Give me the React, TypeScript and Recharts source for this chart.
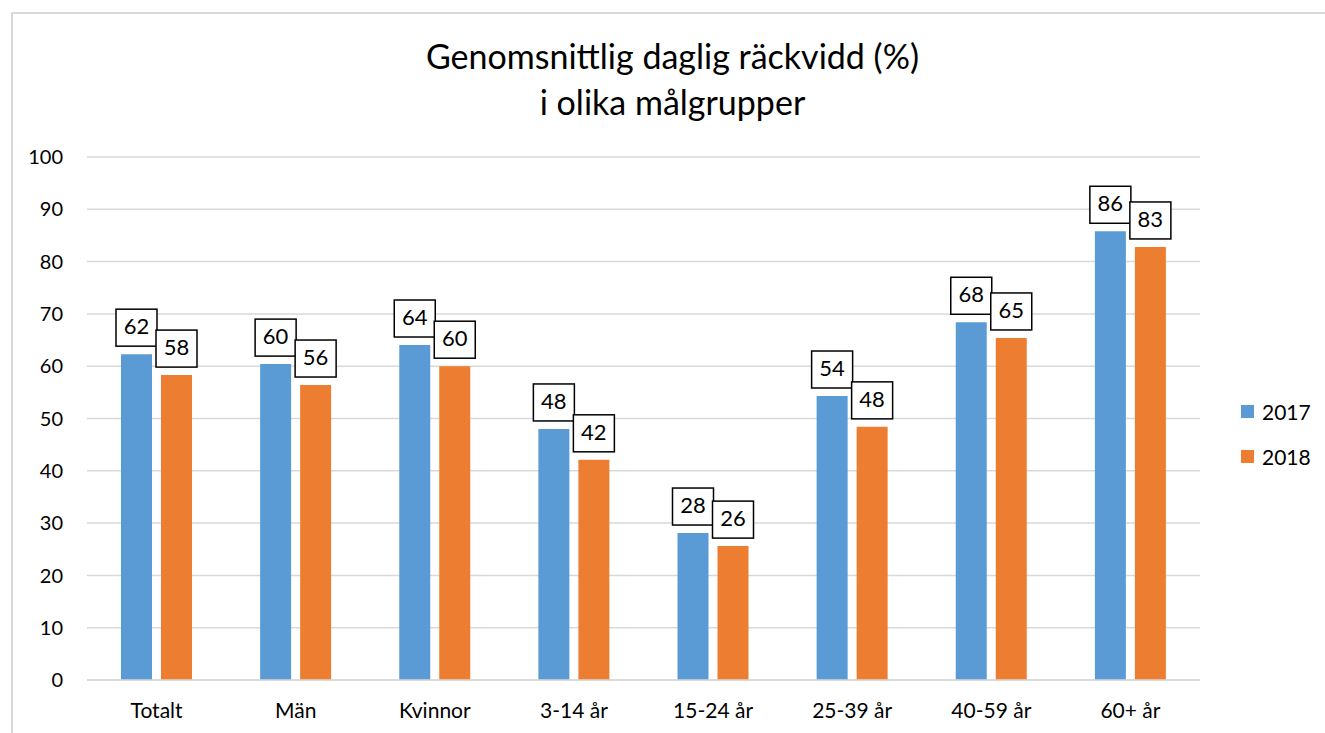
import { BarChart, Bar, XAxis, YAxis, CartesianGrid, LabelList } from "recharts";

const categories = ["Totalt", "Män", "Kvinnor", "3-14 år", "15-24 år", "25-39 år", "40-59 år", "60+ år"];
const values2017 = [62.3, 60.4, 64.05, 48.0, 28.1, 54.3, 68.4, 85.8];
const values2018 = [58.3, 56.4, 60.0, 42.1, 25.6, 48.4, 65.4, 82.8];
const yTicks = [0, 10, 20, 30, 40, 50, 60, 70, 80, 90, 100];
const seriesNames = ["2017", "2018"];

const BLUE = "#5b9bd5";
const ORANGE = "#ed7d31";
const FONT = "Lato, 'Open Sans', sans-serif";

const data = categories.map((name, i) => ({ name, y2017: values2017[i], y2018: values2018[i] }));

// boxed value label above each bar, like the Excel callouts
function BoxLabel(props: any) {
  const { x, y, width, value } = props;
  const cx = Number(x) + Number(width) / 2;
  const w = 41;
  const h = 37;
  const top = Number(y) - 8 - h;
  return (
    <g>
      <rect x={cx - w / 2} y={top} width={w} height={h} fill="#fff" stroke="#000" strokeWidth={1.5} />
      <text x={cx} y={top + h / 2 + 1} textAnchor="middle" dominantBaseline="middle" fontSize={22} fontFamily={FONT} fill="#000">
        {Math.round(Number(value))}
      </text>
    </g>
  );
}

export default function App() {
  const legendColors = [BLUE, ORANGE];
  return (
    <div style={{ position: "absolute", left: 0, top: 0, width: 1325, height: 733, background: "#fff", overflow: "hidden" }}>
      <div style={{ position: "absolute", left: 11, top: 12, width: 1330, height: 740, borderLeft: "2px solid #d9d9d9", borderTop: "2px solid #d9d9d9" }} />
      <div
        style={{
          position: "absolute",
          left: 0,
          width: 1345,
          top: 33,
          textAlign: "center",
          fontFamily: FONT,
          fontSize: 34,
          lineHeight: "46px",
          color: "#000",
        }}
      >
        Genomsnittlig daglig räckvidd (%)
        <br />
        i olika målgrupper
      </div>
      <div style={{ position: "absolute", left: 0, top: 0 }}>
        <BarChart
          width={1325}
          height={733}
          data={data}
          margin={{ top: 157, right: 125, bottom: 0, left: 0 }}
          barCategoryGap={34}
          barGap={9}
        >
          <CartesianGrid vertical={false} stroke="#d9d9d9" strokeWidth={1.5} />
          <XAxis
            dataKey="name"
            axisLine={{ stroke: "#d9d9d9", strokeWidth: 1.5 }}
            tickLine={false}
            tickMargin={17}
            height={53}
            tick={{ fontSize: 21, fontFamily: FONT, fill: "#000" }}
          />
          <YAxis
            domain={[0, 100]}
            ticks={yTicks}
            interval={0}
            axisLine={false}
            tickLine={false}
            width={87}
            tickMargin={18}
            tick={{ fontSize: 20, fontFamily: FONT, fill: "#000" }}
          />
          <Bar dataKey="y2017" name="2017" fill={BLUE} isAnimationActive={false}>
            <LabelList dataKey="y2017" content={<BoxLabel />} />
          </Bar>
          <Bar dataKey="y2018" name="2018" fill={ORANGE} isAnimationActive={false}>
            <LabelList dataKey="y2018" content={<BoxLabel />} />
          </Bar>
        </BarChart>
      </div>
      <div style={{ position: "absolute", left: 1241, top: 389, fontFamily: FONT, fontSize: 21, color: "#000" }}>
        {seriesNames.map((label, i) => (
          <div key={label} style={{ display: "flex", alignItems: "center", height: 45 }}>
            <span style={{ display: "inline-block", width: 13, height: 13, background: legendColors[i], marginRight: 8 }} />
            {label}
          </div>
        ))}
      </div>
    </div>
  );
}
